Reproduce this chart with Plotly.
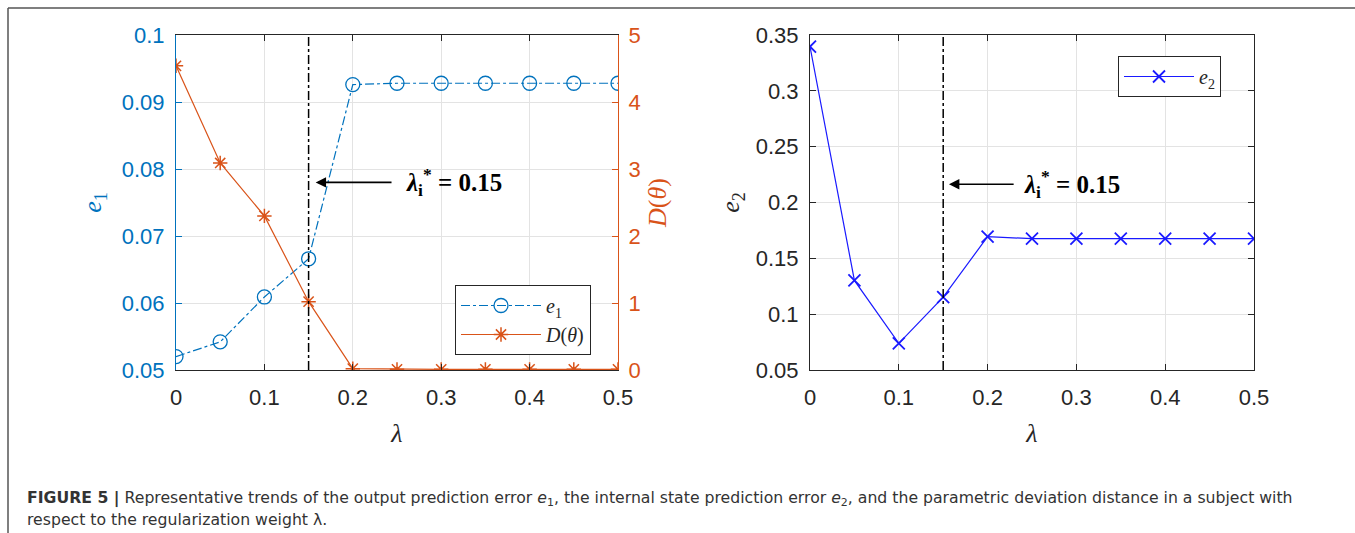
import plotly.graph_objects as go

# ---------------- data ----------------
lam = [0, 0.05, 0.1, 0.15, 0.2, 0.25, 0.3, 0.35, 0.4, 0.45, 0.5]
e1 = [0.0520, 0.0542, 0.0609, 0.0666, 0.0926, 0.0928, 0.0928, 0.0928, 0.0928, 0.0928, 0.0928]
D_theta = [4.54, 3.09, 2.30, 1.02, 0.02, 0.01, 0.01, 0.01, 0.01, 0.01, 0.01]
e2 = [0.3396, 0.1302, 0.0738, 0.1153, 0.1694, 0.1676, 0.1676, 0.1676, 0.1676, 0.1676, 0.1676]
lam_star = 0.15

x_ticks = [0, 0.1, 0.2, 0.3, 0.4, 0.5]
x_ticktext = ["0", "0.1", "0.2", "0.3", "0.4", "0.5"]
e1_ticks = [0.05, 0.06, 0.07, 0.08, 0.09, 0.1]
e1_ticktext = ["0.05", "0.06", "0.07", "0.08", "0.09", "0.1"]
D_ticks = [0, 1, 2, 3, 4, 5]
D_ticktext = ["0", "1", "2", "3", "4", "5"]
e2_ticks = [0.05, 0.1, 0.15, 0.2, 0.25, 0.3, 0.35]
e2_ticktext = ["0.05", "0.1", "0.15", "0.2", "0.25", "0.3", "0.35"]

caption_line1 = ("<b>FIGURE 5 |</b> Representative trends of the output prediction error <i>e</i><sub>1</sub>, "
                 "the internal state prediction error <i>e</i><sub>2</sub>, and the parametric deviation distance in a subject with")
caption_line2 = "respect to the regularization weight λ."

# ---------------- style ----------------
W, H = 1355, 533
BLUE = "#0072BD"
ORANGE = "#D95319"
PBLUE = "#1a1aff"
DARK = "#262626"
GRID = "#e3e3e3"
SANS = "Liberation Sans, Arial, sans-serif"
CAPFONT = "DejaVu Sans, sans-serif"
SERIF = "Liberation Serif, Times New Roman, serif"
TICKFONT = 22

def px_x(p):
    return p / W

def px_y(p):
    return 1 - p / H

fig = go.Figure()

fig.add_trace(go.Scatter(
    x=lam, y=e1, name="<i>e</i><sub>1</sub>", xaxis="x", yaxis="y", legend="legend",
    mode="lines+markers",
    line=dict(color=BLUE, width=1.2, dash="dashdot"),
    marker=dict(symbol="circle-open", size=14, color=BLUE, line=dict(width=1.3, color=BLUE)),
))
fig.add_trace(go.Scatter(
    x=lam, y=D_theta, name="<i>D</i>(<i>θ</i>)", xaxis="x", yaxis="y2", legend="legend",
    mode="lines+markers",
    line=dict(color=ORANGE, width=1.2),
    marker=dict(symbol="asterisk-open", size=12, color=ORANGE, line=dict(width=1.5, color=ORANGE)),
))
fig.add_trace(go.Scatter(
    x=lam, y=e2, name="<i>e</i><sub>2</sub>", xaxis="x2", yaxis="y3", legend="legend2",
    mode="lines+markers",
    line=dict(color=PBLUE, width=1.2),
    marker=dict(symbol="x-thin-open", size=12, color=PBLUE, line=dict(width=1.8, color=PBLUE)),
))

# vertical reference lines
for xr, yr in (("x", "y"), ("x2", "y3")):
    fig.add_shape(type="line", xref=xr, yref=yr + " domain", x0=lam_star, x1=lam_star, y0=0, y1=1,
                  line=dict(color="black", width=1.5, dash="dashdot"), layer="above")

# arrows + text
ann_font = dict(family=SERIF, size=25, color="black")
fig.add_annotation(xref="x", yref="y", x=0.158, y=0.0780, ax=0.2455, ay=0.0780,
                   axref="x", ayref="y", showarrow=True, arrowhead=2, arrowsize=1.3,
                   arrowwidth=1.6, arrowcolor="black", text="")
fig.add_annotation(xref="x", yref="y", x=0.2575, y=0.0780, xanchor="left", yanchor="middle",
                   showarrow=False, font=ann_font,
                   text="<b><i>λ</i><sub>i</sub><sup>*</sup> = 0.15</b>")
fig.add_annotation(xref="x2", yref="y3", x=0.1565, y=0.2163, ax=0.231, ay=0.2163,
                   axref="x2", ayref="y3", showarrow=True, arrowhead=2, arrowsize=1.3,
                   arrowwidth=1.6, arrowcolor="black", text="")
fig.add_annotation(xref="x2", yref="y3", x=0.2387, y=0.2163, xanchor="left", yanchor="middle",
                   showarrow=False, font=ann_font,
                   text="<b><i>λ</i><sub>i</sub><sup>*</sup> = 0.15</b>")

# captions
fig.add_annotation(xref="paper", yref="paper", x=px_x(25), y=px_y(498), xanchor="left", yanchor="middle",
                   showarrow=False, align="left", text=caption_line1,
                   font=dict(family=CAPFONT, size=15.7, color="#333333"))
fig.add_annotation(xref="paper", yref="paper", x=px_x(25), y=px_y(519), xanchor="left", yanchor="middle",
                   showarrow=False, align="left", text=caption_line2,
                   font=dict(family=CAPFONT, size=15.7, color="#333333"))

# frame lines (top and left border)
fig.add_shape(type="line", xref="paper", yref="paper", x0=px_x(8), x1=1, y0=px_y(8), y1=px_y(8),
              line=dict(color="#555555", width=1.5))
fig.add_shape(type="line", xref="paper", yref="paper", x0=px_x(8), x1=px_x(8), y0=0, y1=px_y(8),
              line=dict(color="#555555", width=1.5))

xdom1 = [px_x(176), px_x(618)]
xdom2 = [px_x(810), px_x(1254)]
ydom = [px_y(370), px_y(35)]

common_x = dict(range=[0, 0.5], tickvals=x_ticks, ticktext=x_ticktext, showgrid=True, gridcolor=GRID,
                gridwidth=1, zeroline=False, showline=True, linecolor=DARK, linewidth=1,
                mirror="ticks", ticks="inside", ticklen=6, tickcolor=DARK, automargin=False,
                ticklabelstandoff=8,
                tickfont=dict(family=SANS, size=TICKFONT, color=DARK),
                title=dict(text="<i>λ</i>", font=dict(family=SERIF, size=26, color=DARK), standoff=14))

fig.update_layout(
    width=W, height=H, margin=dict(l=0, r=0, t=0, b=0, pad=0, autoexpand=False),
    paper_bgcolor="white", plot_bgcolor="white",
    xaxis=dict(domain=xdom1, anchor="y", **common_x),
    xaxis2=dict(domain=xdom2, anchor="y3", **common_x),
    yaxis=dict(domain=ydom, anchor="x", range=[0.05, 0.1], tickvals=e1_ticks, ticktext=e1_ticktext,
               showgrid=True, gridcolor=GRID, zeroline=False, showline=True, linecolor=BLUE, linewidth=1,
               ticks="inside", ticklen=6, tickcolor=BLUE, automargin=False, ticklabelstandoff=6,
               tickfont=dict(family=SANS, size=TICKFONT, color=BLUE),
               title=dict(text="<i>e</i><sub>1</sub>", font=dict(family=SERIF, size=26, color=BLUE), standoff=12)),
    yaxis2=dict(domain=ydom, anchor="x", overlaying="y", side="right", range=[0, 5], tickvals=D_ticks,
                ticktext=D_ticktext, showgrid=False, zeroline=False, showline=True, linecolor=ORANGE,
                linewidth=1, ticks="inside", ticklen=6, tickcolor=ORANGE, automargin=False,
                ticklabelstandoff=5,
                tickfont=dict(family=SANS, size=TICKFONT, color=ORANGE),
                title=dict(text="<i>D</i>(<i>θ</i>)", font=dict(family=SERIF, size=26, color=ORANGE), standoff=8)),
    yaxis3=dict(domain=ydom, anchor="x2", range=[0.05, 0.35], tickvals=e2_ticks, ticktext=e2_ticktext,
                showgrid=True, gridcolor=GRID, zeroline=False, showline=True, linecolor=DARK, linewidth=1,
                mirror="ticks", ticks="inside", ticklen=6, tickcolor=DARK, automargin=False,
                ticklabelstandoff=6,
                tickfont=dict(family=SANS, size=TICKFONT, color=DARK),
                title=dict(text="<i>e</i><sub>2</sub>", font=dict(family=SERIF, size=26, color=DARK), standoff=8)),
    legend=dict(x=px_x(455), y=px_y(285), xanchor="left", yanchor="top", bgcolor="white",
                bordercolor=DARK, borderwidth=1, font=dict(family=SERIF, size=20, color=DARK),
                itemwidth=80, tracegroupgap=0),
    legend2=dict(x=px_x(1118), y=px_y(56), xanchor="left", yanchor="top", bgcolor="white",
                 bordercolor=DARK, borderwidth=1, font=dict(family=SERIF, size=20, color=DARK),
                 itemwidth=70),
    showlegend=True,
)

fig.write_html("out.html", config={"responsive": False, "displayModeBar": False},
               post_script="document.body.style.margin='0px';document.body.style.overflow='hidden';")
